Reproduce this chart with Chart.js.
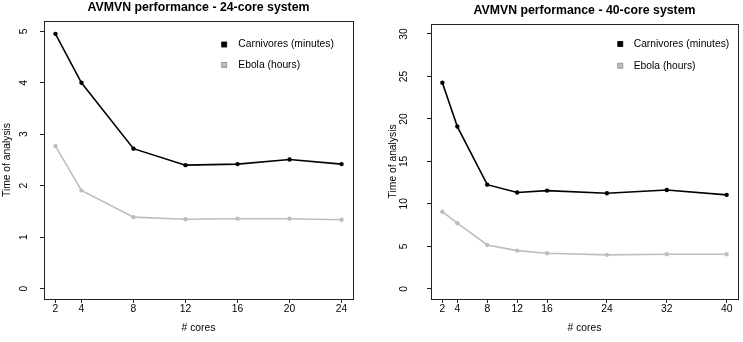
<!DOCTYPE html>
<html>
<head>
<meta charset="utf-8">
<script src="https://cdn.jsdelivr.net/npm/chart.js@4/dist/chart.umd.min.js"></script>
<style>
  html, body { margin: 0; padding: 0; background: #fff; }
  #wrap { position: relative; width: 743px; height: 342px; overflow: hidden; }
  .cv { position: absolute; top: 0; }
</style>
</head>
<body>
<div id="wrap">
  <canvas id="c24" class="cv" width="372" height="342" style="left:0px"></canvas>
  <canvas id="c40" class="cv" width="371" height="342" style="left:372px"></canvas>
</div>
<script>
// ---- data ----
const seriesLabels = ['Carnivores (minutes)', 'Ebola (hours)'];
const chartTitles = ['AVMVN performance - 24-core system', 'AVMVN performance - 40-core system'];
const xAxisTitle = '# cores';
const yAxisTitle = 'Time of analysis';

const cores24 = [2, 4, 8, 12, 16, 20, 24];
const carnivores24 = [4.95, 4.00, 2.72, 2.40, 2.42, 2.51, 2.42];
const ebola24 = [2.77, 1.91, 1.39, 1.35, 1.36, 1.36, 1.34];
const yTicks24 = [0, 1, 2, 3, 4, 5];

const cores40 = [2, 4, 8, 12, 16, 24, 32, 40];
const carnivores40 = [24.25, 19.10, 12.26, 11.33, 11.56, 11.25, 11.64, 11.06];
const ebola40 = [9.08, 7.72, 5.16, 4.50, 4.19, 4.00, 4.07, 4.07];
const yTicks40 = [0, 5, 10, 15, 20, 25, 30];

// ---- styling ----
const FONT = "'Liberation Sans', Arial, sans-serif";
const BLACK = '#000000';
const GRAY = '#bebebe';

const boxPlugin = {
  id: 'rbox',
  afterDraw(chart) {
    const a = chart.chartArea, ctx = chart.ctx;
    ctx.save();
    ctx.strokeStyle = '#222';
    ctx.lineWidth = 1;
    ctx.strokeRect(Math.round(a.left) + 0.5, Math.round(a.top) + 0.5,
                   Math.round(a.right) - Math.round(a.left), Math.round(a.bottom) - Math.round(a.top));
    // legend
    const o = chart.options.plugins.rlegend;
    const ds = chart.data.datasets;
    ctx.font = '10.3px ' + FONT;
    ctx.textBaseline = 'middle';
    ctx.textAlign = 'left';
    ds.forEach((d, i) => {
      const y = o.ys[i];
      ctx.fillStyle = d.borderColor;
      ctx.fillRect(o.sx - 2.5, y - 2.5, 5, 5);
      ctx.strokeStyle = i === 0 ? '#000' : '#8a8a8a';
      ctx.lineWidth = 0.8;
      ctx.strokeRect(o.sx - 2.5, y - 2.5, 5, 5);
      ctx.fillStyle = '#000';
      ctx.fillText(d.label, o.tx, y);
    });
    ctx.restore();
  }
};

function pad(min, max) { const r = max - min; return [min - 0.04 * r, max + 0.04 * r]; }

function makeChart(id, cores, carn, ebola, yTicks, title, cfg) {
  const [xmin, xmax] = pad(cores[0], cores[cores.length - 1]);
  const [ymin, ymax] = pad(yTicks[0], yTicks[yTicks.length - 1]);
  const mk = (label, vals, color) => ({
    label,
    data: cores.map((c, i) => ({ x: c, y: vals[i] })),
    borderColor: color,
    backgroundColor: color,
    borderWidth: 1.6,
    pointStyle: 'circle',
    pointRadius: 2.2,
    pointBorderWidth: 0,
    tension: 0
  });
  return new Chart(document.getElementById(id), {
    type: 'line',
    data: { datasets: [mk(seriesLabels[0], carn, BLACK), mk(seriesLabels[1], ebola, GRAY)] },
    plugins: [boxPlugin],
    options: {
      responsive: false,
      animation: false,
      devicePixelRatio: 1,
      layout: { padding: { left: 0, top: 0, bottom: 0, right: cfg.padRight } },
      plugins: {
        legend: { display: false },
        tooltip: { enabled: false },
        title: {
          display: true, text: title, fullSize: false,
          color: '#000',
          font: { family: FONT, size: 12.3, weight: 'bold', lineHeight: 1.0 },
          padding: { top: 1.5, bottom: 7.2 }
        },
        rlegend: cfg.legend
      },
      scales: {
        x: {
          type: 'linear', min: xmin, max: xmax,
          afterBuildTicks: s => { s.ticks = cores.map(v => ({ value: v })); },
          afterFit: s => { s.height = 43; },
          grid: { display: true, drawOnChartArea: false, drawTicks: true, tickLength: 4, color: '#222', lineWidth: 1 },
          border: { display: false },
          ticks: { color: '#000', font: { family: FONT, size: 10.3 }, padding: 0, maxRotation: 0, autoSkip: false },
          title: { display: true, text: xAxisTitle, color: '#000', font: { family: FONT, size: 10.3, lineHeight: 1.2 }, padding: { top: 0, bottom: 8 } }
        },
        y: {
          type: 'linear', min: ymin, max: ymax,
          afterBuildTicks: s => { s.ticks = yTicks.map(v => ({ value: v })); },
          afterFit: s => { s.width = cfg.yWidth; },
          grid: { display: true, drawOnChartArea: false, drawTicks: true, tickLength: 4, color: '#222', lineWidth: 1 },
          border: { display: false },
          ticks: { color: '#000', font: { family: FONT, size: 10.3 }, padding: cfg.yTickPad, minRotation: 90, maxRotation: 90, crossAlign: 'center', autoSkip: false },
          title: { display: true, text: yAxisTitle, color: '#000', font: { family: FONT, size: 10.3, lineHeight: 1.2 }, padding: { top: cfg.yTitlePad, bottom: 0 } }
        }
      }
    }
  });
}

makeChart('c24', cores24, carnivores24, ebola24, yTicks24, chartTitles[0], {
  padRight: 19, yWidth: 44, yTickPad: 12.8, yTitlePad: 0.8,
  legend: { sx: 224.2, tx: 238.3, ys: [44.5, 65] }
});
makeChart('c40', cores40, carnivores40, ebola40, yTicks40, chartTitles[1], {
  padRight: 5, yWidth: 59, yTickPad: 17.6, yTitlePad: 14.6,
  legend: { sx: 248.3, tx: 261.7, ys: [44, 65.7] }
});
</script>
</body>
</html>
